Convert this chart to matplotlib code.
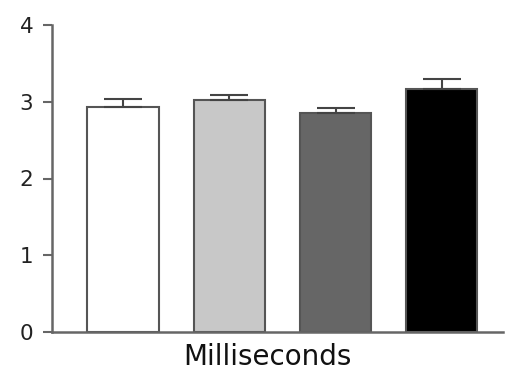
import numpy as np
import matplotlib.pyplot as plt

# Mean response time per condition, with upper SEM bars
groups = ["A", "B", "C", "D"]
means = [2.93, 3.02, 2.86, 3.17]
sem = [0.10, 0.07, 0.06, 0.13]
colors = ["white", "#c8c8c8", "#666666", "black"]

fig = plt.figure(figsize=(5.05, 3.75), dpi=100)
ax = fig.add_axes([0.103, 0.1147, 0.893, 0.8186])

x = np.arange(len(groups))
ax.bar(x, means, width=0.67, color=colors, edgecolor="#555555", linewidth=1.5, zorder=2)
ax.errorbar(x, means, yerr=[np.zeros(len(sem)), sem], fmt="none",
            ecolor="#444444", elinewidth=1.5, capsize=13.5, capthick=1.5, zorder=3)

ax.set_xlim(-0.668, 3.575)
ax.set_ylim(0, 4)
ax.set_yticks([0, 1, 2, 3, 4])
ax.set_xticks([])

for side in ["top", "right"]:
    ax.spines[side].set_visible(False)
for side in ["left", "bottom"]:
    ax.spines[side].set_color("#666666")
    ax.spines[side].set_linewidth(1.8)

ax.tick_params(axis="y", length=6.5, width=1.5, color="#666666", pad=7,
               labelsize=15.5, labelcolor="#222222")
ax.set_xlabel("Milliseconds", fontsize=20, color="#111111")
ax.xaxis.set_label_coords(0.477, -0.035)

plt.savefig("out.png", dpi=100)
